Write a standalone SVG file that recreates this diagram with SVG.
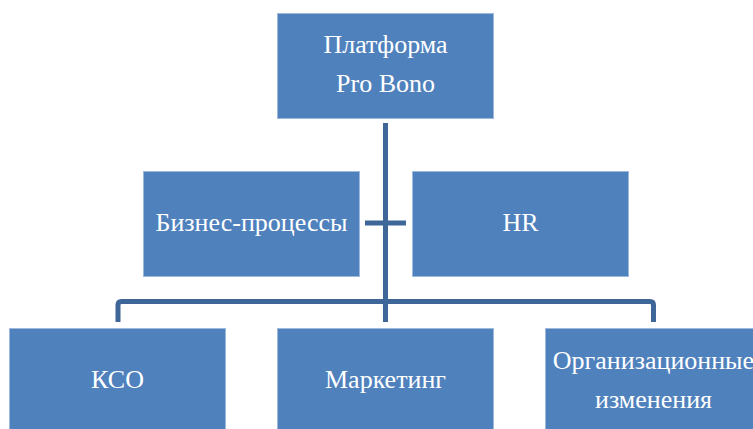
<svg xmlns="http://www.w3.org/2000/svg" width="753" height="429" viewBox="0 0 753 429">
<style>
.box{fill:#4F81BD;stroke:#9DB9DC;stroke-width:1}
.con{fill:none;stroke:#3F6699;stroke-width:5;stroke-linejoin:round}
</style>
<rect x="0" y="0" width="753" height="429" fill="#FFFFFF"/>
<g id="connectors">
<path class="con" d="M385.5,123 V322"/>
<path class="con" d="M365,223 H406"/>
<path class="con" d="M118,322 V305 Q118,301.5 121.5,301.5 H650 Q653.5,301.5 653.5,305 V322"/>
</g>
<g font-family="Liberation Serif, Times New Roman, serif" font-size="26" fill="#FFFFFF" text-anchor="middle">
<g id="node-platform">
<rect class="box" x="277.5" y="13.5" width="216" height="105"/>
<text x="385.5" y="53">Платформа</text>
<text x="385.5" y="92">Pro Bono</text>
</g>
<g id="node-business">
<rect class="box" x="143.5" y="171.5" width="216" height="105"/>
<text x="251.5" y="231">Бизнес-процессы</text>
</g>
<g id="node-hr">
<rect class="box" x="412.5" y="171.5" width="216" height="105"/>
<text x="520.5" y="231">HR</text>
</g>
<g id="node-kso">
<rect class="box" x="9.5" y="328.5" width="216" height="105"/>
<text x="117.5" y="388">КСО</text>
</g>
<g id="node-marketing">
<rect class="box" x="277.5" y="328.5" width="216" height="105"/>
<text x="385.5" y="388">Маркетинг</text>
</g>
<g id="node-org">
<rect class="box" x="545.5" y="328.5" width="216" height="105"/>
<text x="653.5" y="369">Организационные</text>
<text x="653.5" y="408">изменения</text>
</g>
</g>
</svg>
